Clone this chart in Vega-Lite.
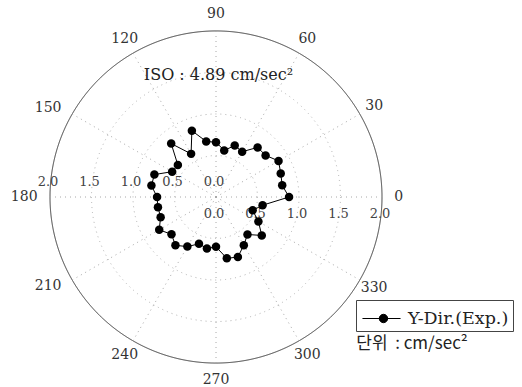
{
  "$schema": "https://vega.github.io/schema/vega-lite/v6.json",
  "width": 332,
  "height": 332,
  "autosize": "none",
  "padding": {"left": 50, "top": 31, "right": 140, "bottom": 24},
  "background": "white",
  "config": {"view": {"stroke": null}},
  "datasets": {
    "series": [
      {"angle": 0, "r": 0.88, "series": "Y-Dir.(Exp.)"},
      {"angle": 10, "r": 0.81, "series": "Y-Dir.(Exp.)"},
      {"angle": 20, "r": 0.83, "series": "Y-Dir.(Exp.)"},
      {"angle": 30, "r": 0.87, "series": "Y-Dir.(Exp.)"},
      {"angle": 40, "r": 0.78, "series": "Y-Dir.(Exp.)"},
      {"angle": 50, "r": 0.78, "series": "Y-Dir.(Exp.)"},
      {"angle": 60, "r": 0.63, "series": "Y-Dir.(Exp.)"},
      {"angle": 70, "r": 0.66, "series": "Y-Dir.(Exp.)"},
      {"angle": 80, "r": 0.57, "series": "Y-Dir.(Exp.)"},
      {"angle": 90, "r": 0.66, "series": "Y-Dir.(Exp.)"},
      {"angle": 100, "r": 0.68, "series": "Y-Dir.(Exp.)"},
      {"angle": 110, "r": 0.85, "series": "Y-Dir.(Exp.)"},
      {"angle": 120, "r": 0.60, "series": "Y-Dir.(Exp.)"},
      {"angle": 130, "r": 0.84, "series": "Y-Dir.(Exp.)"},
      {"angle": 140, "r": 0.60, "series": "Y-Dir.(Exp.)"},
      {"angle": 150, "r": 0.61, "series": "Y-Dir.(Exp.)"},
      {"angle": 160, "r": 0.79, "series": "Y-Dir.(Exp.)"},
      {"angle": 170, "r": 0.79, "series": "Y-Dir.(Exp.)"},
      {"angle": 180, "r": 0.71, "series": "Y-Dir.(Exp.)"},
      {"angle": 190, "r": 0.71, "series": "Y-Dir.(Exp.)"},
      {"angle": 200, "r": 0.71, "series": "Y-Dir.(Exp.)"},
      {"angle": 210, "r": 0.79, "series": "Y-Dir.(Exp.)"},
      {"angle": 220, "r": 0.70, "series": "Y-Dir.(Exp.)"},
      {"angle": 230, "r": 0.76, "series": "Y-Dir.(Exp.)"},
      {"angle": 240, "r": 0.69, "series": "Y-Dir.(Exp.)"},
      {"angle": 250, "r": 0.60, "series": "Y-Dir.(Exp.)"},
      {"angle": 260, "r": 0.63, "series": "Y-Dir.(Exp.)"},
      {"angle": 270, "r": 0.60, "series": "Y-Dir.(Exp.)"},
      {"angle": 280, "r": 0.75, "series": "Y-Dir.(Exp.)"},
      {"angle": 290, "r": 0.77, "series": "Y-Dir.(Exp.)"},
      {"angle": 300, "r": 0.67, "series": "Y-Dir.(Exp.)"},
      {"angle": 310, "r": 0.59, "series": "Y-Dir.(Exp.)"},
      {"angle": 320, "r": 0.72, "series": "Y-Dir.(Exp.)"},
      {"angle": 330, "r": 0.59, "series": "Y-Dir.(Exp.)"},
      {"angle": 340, "r": 0.47, "series": "Y-Dir.(Exp.)"},
      {"angle": 350, "r": 0.57, "series": "Y-Dir.(Exp.)"}
    ],
    "angles": [
      {"angle": 0}, {"angle": 30}, {"angle": 60}, {"angle": 90},
      {"angle": 120}, {"angle": 150}, {"angle": 180}, {"angle": 210},
      {"angle": 240}, {"angle": 270}, {"angle": 300}, {"angle": 330}
    ],
    "rings": [{"r": 0.5}, {"r": 1.0}, {"r": 1.5}, {"r": 2.0}],
    "radii": [{"r": 0}, {"r": 0.5}, {"r": 1.0}, {"r": 1.5}, {"r": 2.0}]
  },
  "layer": [
    {
      "data": {"name": "rings"},
      "transform": [{"calculate": "0", "as": "x"}, {"calculate": "0", "as": "y"}],
      "mark": {"type": "point", "shape": "circle", "filled": false, "strokeWidth": 1, "opacity": 1},
      "encoding": {
        "x": {"field": "x", "type": "quantitative", "scale": {"domain": [-2, 2], "nice": false, "zero": false}, "axis": null},
        "y": {"field": "y", "type": "quantitative", "scale": {"domain": [-2, 2], "nice": false, "zero": false}, "axis": null},
        "size": {"field": "r", "type": "quantitative", "scale": {"type": "pow", "exponent": 2, "domain": [0, 2], "range": [0, 110224], "zero": true}, "legend": null},
        "stroke": {"condition": {"test": "datum.r >= 2", "value": "#333"}, "value": "#b0b0b0"},
        "strokeDash": {"condition": {"test": "datum.r >= 2", "value": [1, 0]}, "value": [1, 4]}
      }
    },
    {
      "data": {"name": "angles"},
      "transform": [
        {"calculate": "2 * cos(datum.angle * PI / 180)", "as": "x2"},
        {"calculate": "2 * sin(datum.angle * PI / 180)", "as": "y2"},
        {"calculate": "0", "as": "x"},
        {"calculate": "0", "as": "y"}
      ],
      "mark": {"type": "rule", "stroke": "#a8a8a8", "strokeWidth": 1, "strokeDash": [1, 4]},
      "encoding": {
        "x": {"field": "x", "type": "quantitative"},
        "y": {"field": "y", "type": "quantitative"},
        "x2": {"field": "x2"},
        "y2": {"field": "y2"}
      }
    },
    {
      "data": {"name": "angles"},
      "transform": [
        {"calculate": "(datum.angle >= 150 && datum.angle <= 210 ? 2.15 : 2.2) * cos(datum.angle * PI / 180)", "as": "x"},
        {"calculate": "(datum.angle >= 150 && datum.angle <= 210 ? 2.15 : 2.2) * sin(datum.angle * PI / 180)", "as": "y"}
      ],
      "mark": {"type": "text", "font": "DejaVu Serif", "fontSize": 14, "fill": "#333", "baseline": "middle", "align": {"expr": "datum.angle >= 150 && datum.angle <= 210 ? 'right' : 'center'"}},
      "encoding": {
        "x": {"field": "x", "type": "quantitative"},
        "y": {"field": "y", "type": "quantitative"},
        "text": {"field": "angle", "type": "nominal"}
      }
    },
    {
      "data": {"name": "radii"},
      "transform": [
        {"calculate": "-datum.r", "as": "x"},
        {"calculate": "0", "as": "y"}
      ],
      "mark": {"type": "text", "font": "DejaVu Serif", "fontSize": 13, "fill": "#444", "baseline": "middle", "align": "center", "dx": -2, "dy": -15},
      "encoding": {
        "x": {"field": "x", "type": "quantitative"},
        "y": {"field": "y", "type": "quantitative"},
        "text": {"field": "r", "type": "quantitative", "format": ".1f"}
      }
    },
    {
      "data": {"name": "radii"},
      "transform": [
        {"calculate": "datum.r", "as": "x"},
        {"calculate": "0", "as": "y"}
      ],
      "mark": {"type": "text", "font": "DejaVu Serif", "fontSize": 13, "fill": "#444", "baseline": "middle", "align": "center", "dx": -2, "dy": 17},
      "encoding": {
        "x": {"field": "x", "type": "quantitative"},
        "y": {"field": "y", "type": "quantitative"},
        "text": {"field": "r", "type": "quantitative", "format": ".1f"}
      }
    },
    {
      "data": {"name": "series"},
      "transform": [
        {"calculate": "datum.r * cos(datum.angle * PI / 180)", "as": "x"},
        {"calculate": "datum.r * sin(datum.angle * PI / 180)", "as": "y"}
      ],
      "mark": {"type": "line", "interpolate": "linear-closed", "strokeWidth": 1},
      "encoding": {
        "x": {"field": "x", "type": "quantitative"},
        "y": {"field": "y", "type": "quantitative"},
        "order": {"field": "angle", "type": "quantitative"},
        "color": {
          "field": "series", "type": "nominal",
          "scale": {"range": ["#000000"]},
          "legend": {
            "orient": "none", "legendX": 306, "legendY": 269,
            "title": null,
            "strokeColor": "#444", "fillColor": "white", "padding": 4,
            "symbolType": "M-1.36,0H1.36M0.44,0A0.3,0.3,0,1,1,-0.16,0A0.3,0.3,0,1,1,0.44,0",
            "symbolSize": 784, "symbolStrokeWidth": 1, "symbolFillColor": "#000", "symbolStrokeColor": "#000",
            "symbolOffset": 7, "labelOffset": 12,
            "labelFont": "DejaVu Serif", "labelFontSize": 17.5, "labelColor": "#222"
          }
        }
      }
    },
    {
      "data": {"name": "series"},
      "transform": [
        {"calculate": "datum.r * cos(datum.angle * PI / 180)", "as": "x"},
        {"calculate": "datum.r * sin(datum.angle * PI / 180)", "as": "y"}
      ],
      "mark": {"type": "point", "shape": "circle", "filled": true, "size": 72, "opacity": 1},
      "encoding": {
        "x": {"field": "x", "type": "quantitative"},
        "y": {"field": "y", "type": "quantitative"},
        "color": {"field": "series", "type": "nominal"}
      }
    },
    {
      "data": {"values": [{}]},
      "mark": {"type": "text", "font": "DejaVu Serif", "fontSize": 16, "fill": "#222", "align": "center", "baseline": "middle"},
      "encoding": {
        "x": {"datum": 0.03},
        "y": {"datum": 1.47},
        "text": {"value": "ISO : 4.89 cm/sec²"}
      }
    },
    {
      "data": {"values": [{}]},
      "mark": {"type": "text", "font": "Noto Sans CJK KR", "fontSize": 17, "fill": "#222", "align": "left", "baseline": "middle"},
      "encoding": {
        "x": {"datum": 1.69},
        "y": {"datum": -1.77},
        "text": {"value": "단위\u00a0\u00a0: cm/sec²"}
      }
    }
  ]
}
